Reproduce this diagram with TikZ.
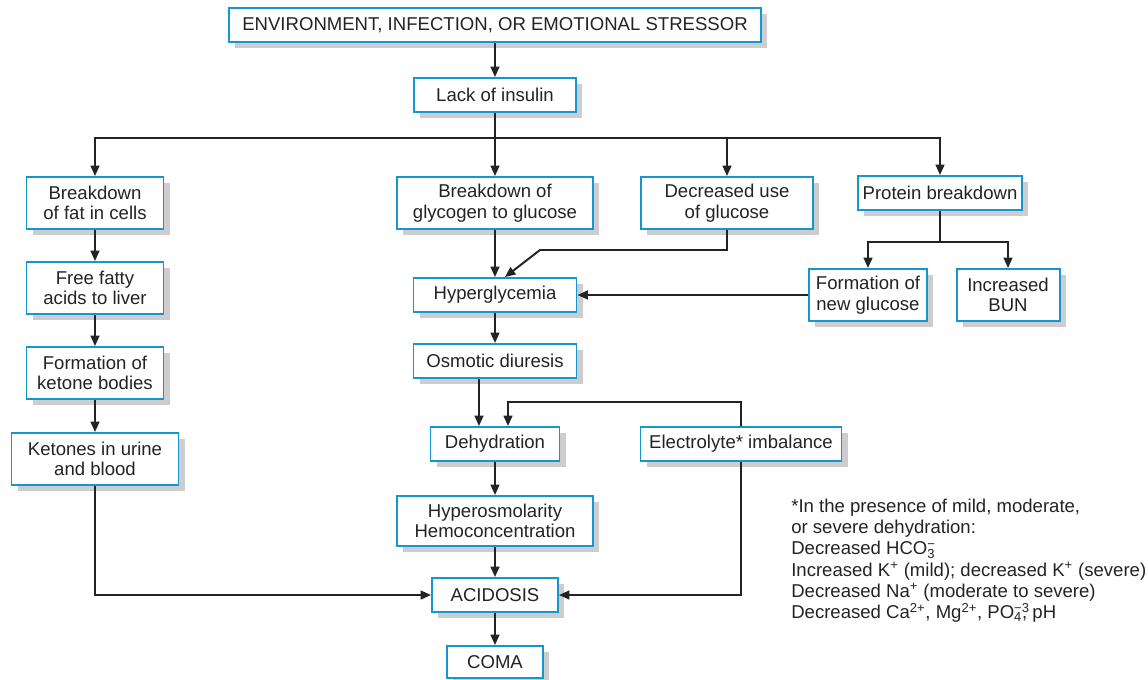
\documentclass[tikz,border=0pt]{standalone}
\usepackage{fontspec}
\setmainfont{Liberation Sans}
\usetikzlibrary{arrows.meta,shadows}
\definecolor{boxblue}{RGB}{20,150,210}
\definecolor{shadowgray}{RGB}{205,205,205}
\definecolor{inkgray}{RGB}{35,35,35}
% subscript with a superscript stacked over it
\newcommand{\subsup}[2]{\rlap{\textsuperscript{#2}}\textsubscript{#1}}

\begin{document}
\begin{tikzpicture}[x=0.025cm, y=-0.025cm,
    flowbox/.style={rectangle, draw=boxblue, line width=1.4pt, fill=white, text=inkgray,
                    align=center, inner sep=0pt, minimum height=0.85cm,
                    font=\fontsize{13.2}{14.7}\selectfont,
                    drop shadow={shadow xshift=0.16cm, shadow yshift=-0.16cm, fill=shadowgray, opacity=1}},
    tallbox/.style={flowbox, minimum height=1.3cm},
    boxw/.style={minimum width=#1*0.025cm},
    flow/.style={-{Triangle[length=0.26cm,width=0.22cm]}, line width=1.4pt, draw=inkgray}
]
\useasboundingbox (0,0) rectangle (1148,679);

% top of the chain
\node[flowbox, boxw=532] (stressor) at (495,25) {ENVIRONMENT, INFECTION, OR EMOTIONAL STRESSOR};
\node[flowbox, boxw=162] (insulin) at (495,95) {Lack of insulin};
\coordinate (bus) at (495,138);

% second row
\node[tallbox, boxw=137] (fat) at (95,203) {Breakdown\\of fat in cells};
\node[tallbox, boxw=196] (glycogen) at (495,203) {Breakdown of\\glycogen to glucose};
\node[tallbox, boxw=172] (lessuse) at (727,203) {Decreased use\\of glucose};
\node[flowbox, boxw=164] (protein) at (940,193) {Protein breakdown};

% fat branch
\node[tallbox, boxw=137] (fatty) at (95,288) {Free fatty\\acids to liver};
\node[tallbox, boxw=137] (ketone) at (95,373) {Formation of\\ketone bodies};
\node[tallbox, boxw=167] (urine) at (95,459) {Ketones in urine\\and blood};

% protein branch
\coordinate (split) at (940,242);
\node[tallbox, boxw=118] (newgluc) at (868,295) {Formation of\\new glucose};
\node[tallbox, boxw=103] (bun) at (1008,295) {Increased\\BUN};

% middle column
\node[flowbox, boxw=163] (hyper) at (495,295) {Hyperglycemia};
\node[flowbox, boxw=163] (osmotic) at (495,361) {Osmotic diuresis};
\node[flowbox, boxw=129] (dehyd) at (495,444) {Dehydration};
\node[flowbox, boxw=201] (electro) at (741,444) {Electrolyte* imbalance};
\node[tallbox, boxw=196, minimum height=1.25cm] (hyperos) at (495,521) {Hyperosmolarity\\Hemoconcentration};
\node[flowbox, boxw=126] (acid) at (495,595) {ACIDOSIS};
\node[flowbox, boxw=96, minimum height=0.8cm] (coma) at (495,662) {COMA};
\coordinate (elbow) at (540,250);
\coordinate (loop) at (508,402);

% footnote
\node[anchor=north west, align=left, inner sep=0pt, text=inkgray,
      font=\fontsize{13.2}{15}\selectfont] (note) at (791,499)
     {*In the presence of mild, moderate,\\
      or severe dehydration:\\
      Decreased HCO\subsup{3}{−}\\
      Increased K\textsuperscript{+} (mild); decreased K\textsuperscript{+} (severe)\\
      Decreased Na\textsuperscript{+} (moderate to severe)\\
      Decreased Ca\textsuperscript{2+}, Mg\textsuperscript{2+}, PO\subsup{4}{−3}, pH};

% connectors
\draw[flow] (stressor) -- (insulin);
\draw[flow, -] (insulin) -- (bus);
\draw[flow] (bus) -| (fat);
\draw[flow] (bus) -- (glycogen);
\draw[flow] (bus) -| (lessuse);
\draw[flow] (bus) -| (protein);

\draw[flow] (fat) -- (fatty);
\draw[flow] (fatty) -- (ketone);
\draw[flow] (ketone) -- (urine);
\draw[flow] (urine) |- (acid);

\draw[flow, -] (protein) -- (split);
\draw[flow] (split) -| (newgluc);
\draw[flow] (split) -| (bun);
\draw[flow] (newgluc) -- (hyper);

\draw[flow] (glycogen) -- (hyper);
\draw[flow] (lessuse.south) |- (elbow) -- ([xshift=0.25cm]hyper.north);
\draw[flow] (hyper) -- (osmotic);
\draw[flow] ([xshift=-0.4cm]osmotic.south) -- ([xshift=-0.4cm]dehyd.north);
\draw[flow] (electro.north) |- (loop) -- ([xshift=0.325cm]dehyd.north);
\draw[flow] (dehyd) -- (hyperos);
\draw[flow] (hyperos) -- (acid);
\draw[flow] (electro) |- (acid);
\draw[flow] (acid) -- (coma);
\end{tikzpicture}
\end{document}
